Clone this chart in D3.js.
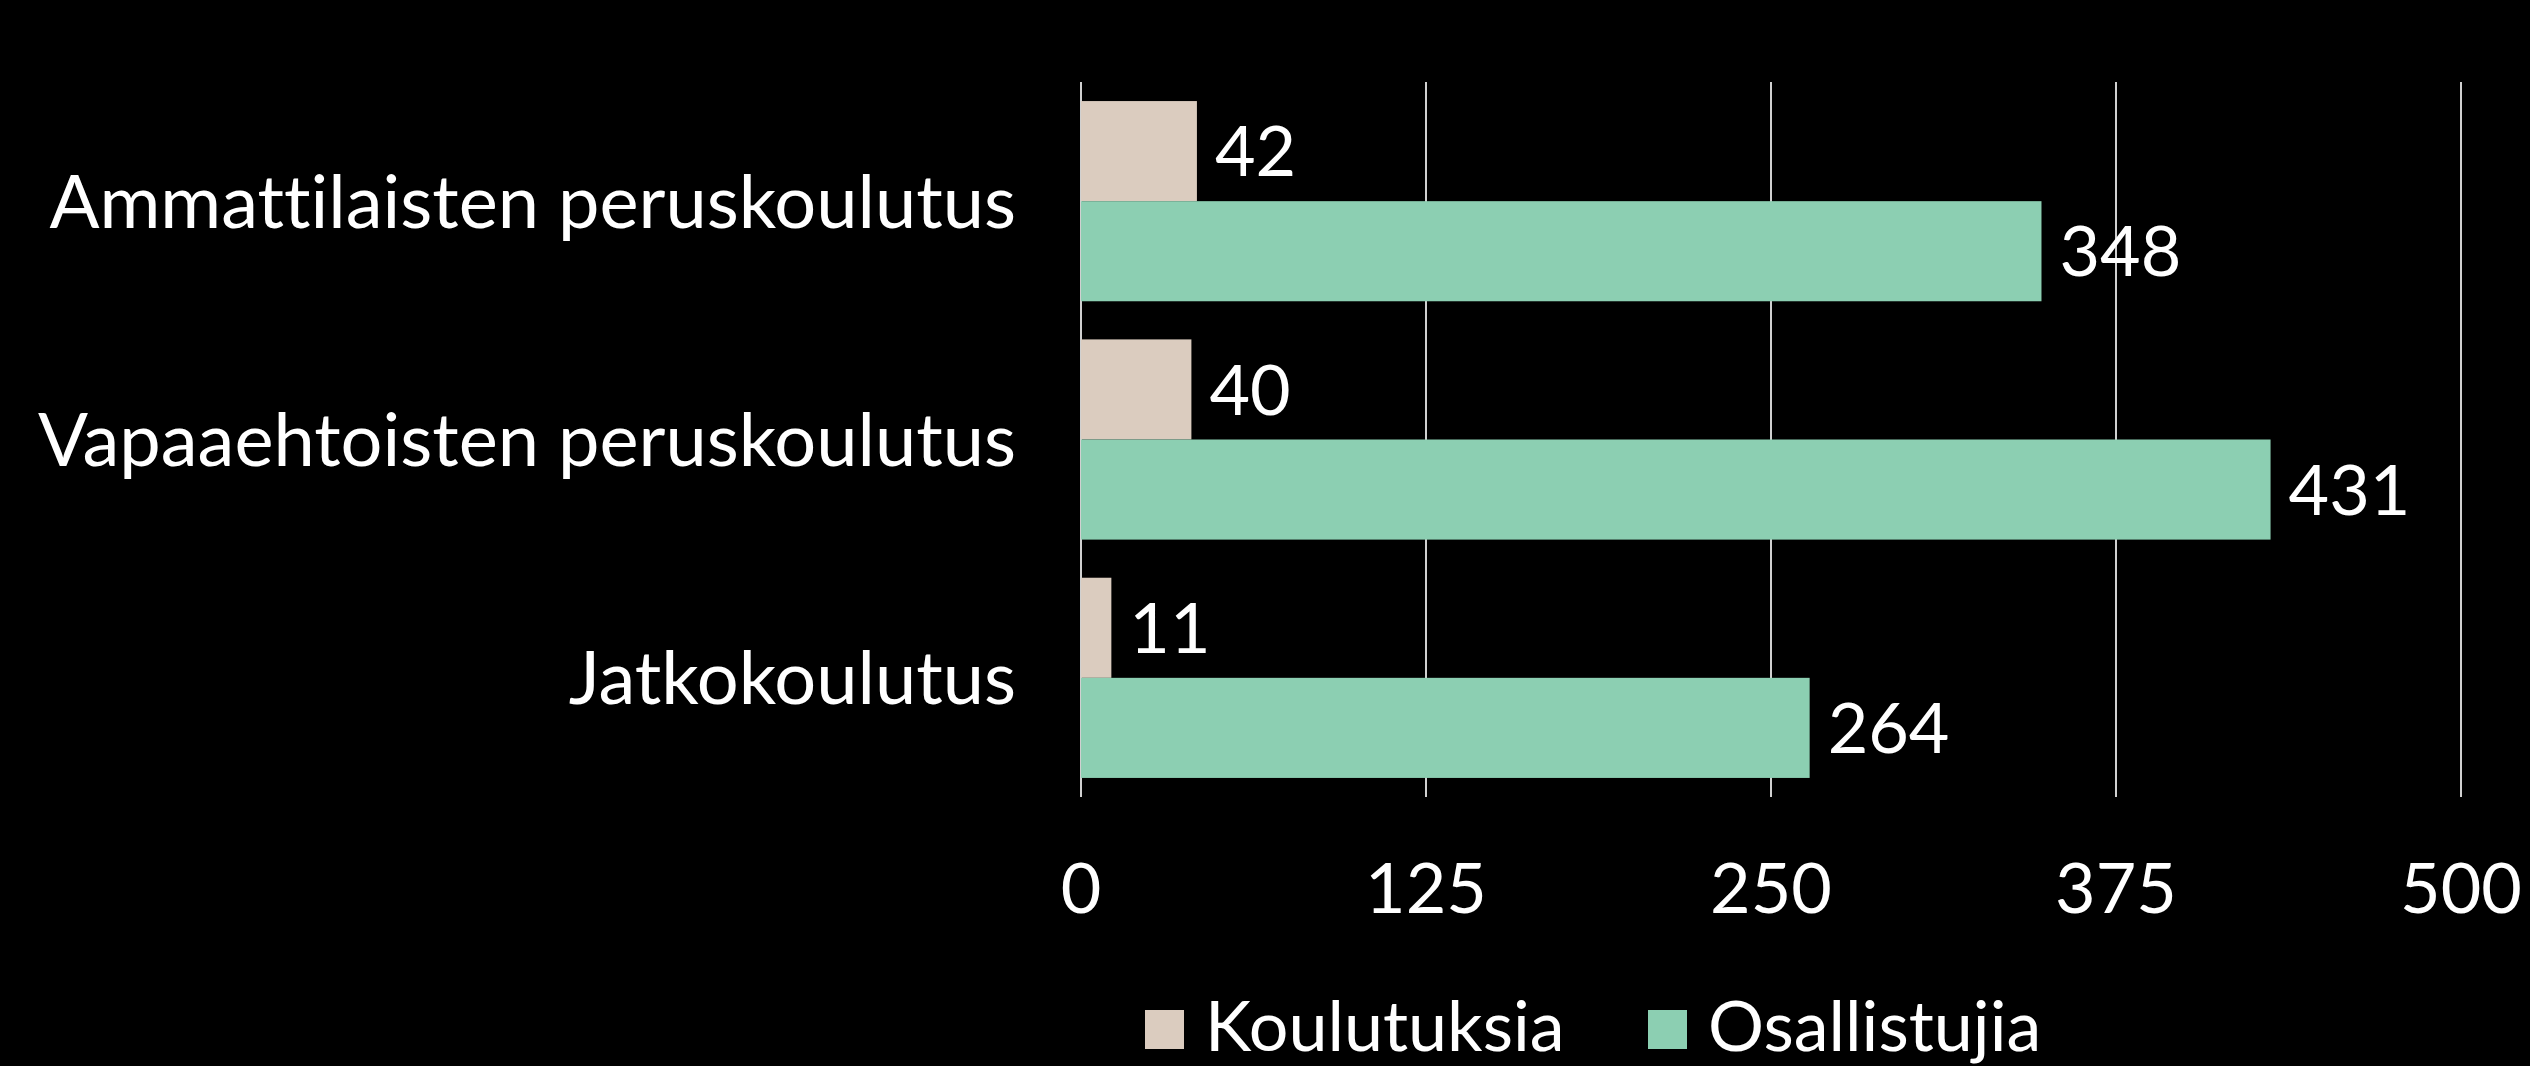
<!DOCTYPE html>
<html>
<head>
<meta charset="utf-8">
<script src="https://cdn.jsdelivr.net/npm/d3@7"></script>
<style>
  html, body { margin: 0; padding: 0; background: #000; }
  svg text { font-family: Lato, "Open Sans", sans-serif; fill: #fff; font-variant-ligatures: none; }
</style>
</head>
<body>
<div id="chart"></div>
<script>
// Data
const categories = ["Ammattilaisten peruskoulutus", "Vapaaehtoisten peruskoulutus", "Jatkokoulutus"];
const seriesNames = ["Koulutuksia", "Osallistujia"];
const koulutuksia = [42, 40, 11];
const osallistujia = [348, 431, 264];
const xTicks = [0, 125, 250, 375, 500];
const colors = ["#dbccbf", "#8ccfb2"];

const width = 2530, height = 1066;
const margin = { top: 82, right: 69, bottom: 269, left: 1081 };
const fontSize = 70;

const svg = d3.select("#chart")
  .append("svg")
  .attr("width", width)
  .attr("height", height);

const x = d3.scaleLinear()
  .domain([0, 500])
  .range([margin.left, width - margin.right]);

const y = d3.scaleBand()
  .domain(categories)
  .range([margin.top, height - margin.bottom])
  .paddingInner(0.16)
  .paddingOuter(0.08);

const ySub = d3.scaleBand()
  .domain(seriesNames)
  .range([0, y.bandwidth()]);

// gridlines
svg.append("g")
  .selectAll("line")
  .data(xTicks)
  .join("line")
  .attr("x1", d => x(d))
  .attr("x2", d => x(d))
  .attr("y1", margin.top)
  .attr("y2", height - margin.bottom)
  .attr("stroke", "#d0d0d0")
  .attr("stroke-width", 2);

// tick labels
svg.append("g")
  .selectAll("text")
  .data(xTicks)
  .join("text")
  .attr("x", d => x(d))
  .attr("y", 913)
  .attr("text-anchor", "middle")
  .style("font-size", fontSize + "px")
  .text(d => d);

// bars
const rows = categories.map((c, i) => ({ cat: c, values: [koulutuksia[i], osallistujia[i]] }));

const group = svg.append("g")
  .selectAll("g")
  .data(rows)
  .join("g")
  .attr("transform", d => `translate(0,${y(d.cat)})`);

group.selectAll("rect")
  .data(d => d.values.map((v, j) => ({ key: seriesNames[j], v, j })))
  .join("rect")
  .attr("x", x(0))
  .attr("y", d => ySub(d.key))
  .attr("width", d => x(d.v) - x(0))
  .attr("height", ySub.bandwidth())
  .attr("fill", d => colors[d.j]);

group.selectAll("text")
  .data(d => d.values.map((v, j) => ({ key: seriesNames[j], v, j })))
  .join("text")
  .attr("x", d => x(d.v) + 18)
  .attr("y", d => ySub(d.key) + ySub.bandwidth() / 2)
  .attr("dy", "0.36em")
  .style("font-size", fontSize + "px")
  .text(d => d.v);

// category labels
svg.append("g")
  .selectAll("text")
  .data(categories)
  .join("text")
  .attr("x", 1016)
  .attr("y", d => y(d) + y.bandwidth() / 2)
  .attr("dy", "0.36em")
  .attr("text-anchor", "end")
  .style("font-size", "74px")
  .text(d => d);

// legend
const legend = svg.append("g");
const legendX = [1145, 1648];
seriesNames.forEach((name, i) => {
  legend.append("rect")
    .attr("x", legendX[i])
    .attr("y", 1010)
    .attr("width", 39)
    .attr("height", 39)
    .attr("fill", colors[i]);
  legend.append("text")
    .attr("x", legendX[i] + 60)
    .attr("y", 1051)
    .style("font-size", fontSize + "px")
    .text(name);
});
</script>
</body>
</html>
